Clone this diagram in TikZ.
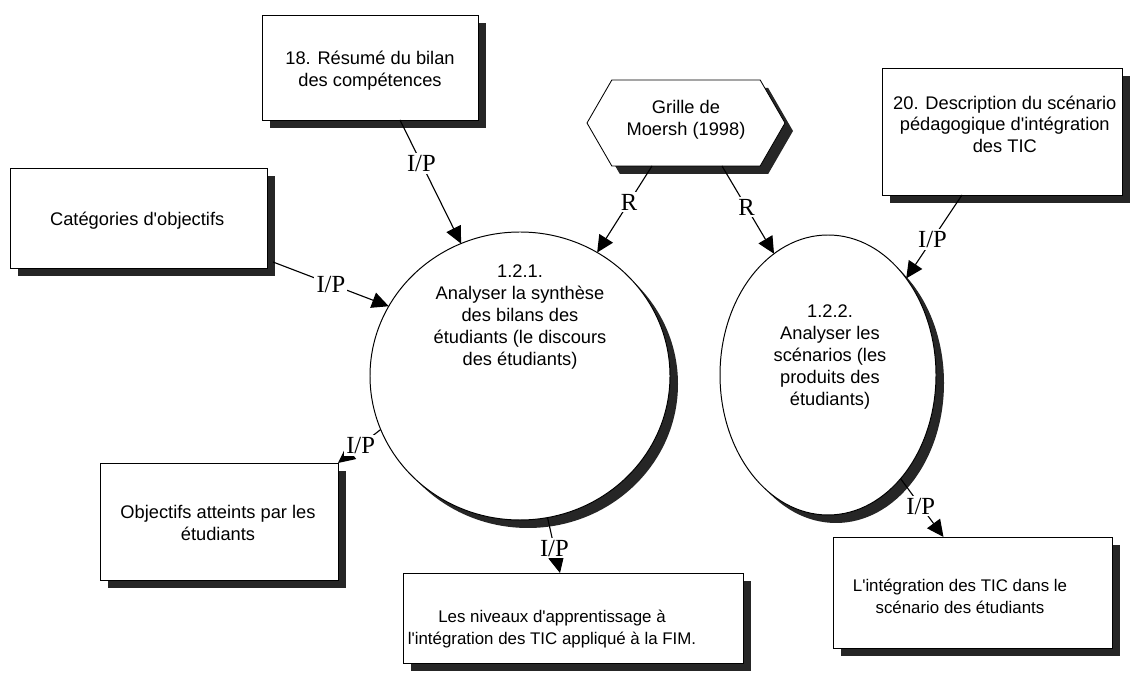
\documentclass[tikz,border=0pt]{standalone}
\usepackage{fontspec}
\setmainfont{Liberation Sans}
\newfontfamily\lblfont{Liberation Serif}
\usetikzlibrary{arrows.meta, shapes.geometric, shapes.symbols, shadows}
\newcommand{\ap}{\textquotesingle}

\tikzset{
  dropblk/.style={drop shadow={shadow xshift=0.2cm, shadow yshift=-0.2cm, fill=black!85, opacity=1}},
  box/.style={draw, fill=white, line width=0.6pt, rectangle, inner sep=0pt, outer sep=0pt, dropblk},
  proc/.style={draw, fill=white, ellipse, line width=0.7pt, inner sep=0pt, outer sep=0pt, dropblk},
  txt/.style={align=center, font=\fontsize{13}{15.5}\selectfont, inner sep=0pt},
  smalltxt/.style={txt, font=\fontsize{12}{15.5}\selectfont},
  flow/.style={line width=0.8pt, -{Triangle[length=0.42cm, width=0.4cm]}},
  tag/.style={fill=white, inner sep=1.5pt, font=\lblfont\fontsize{17.5}{17.5}\selectfont},
}

\begin{document}
\begin{tikzpicture}
\useasboundingbox (0,0) rectangle (28.25,16.825);

% Inputs
\node[box, minimum width=5.4cm, minimum height=2.625cm] (resume) at (9.25,15.1375) {};
\node[txt] (resumet) at (9.25,15.05) {18. Résumé du bilan\\des compétences};

\node[box, minimum width=6.425cm, minimum height=2.5cm] (categ) at (3.4625,11.375) {};
\node[txt] (categt) at (3.43,11.3) {Catégories d\ap objectifs};

\node[box, minimum width=6.0cm, minimum height=3.175cm] (descr) at (25.05,13.5375) {};
\node[txt] (descrt) at (25.12,13.72) {20. Description du scénario\\pédagogique d\ap intégration\\des TIC};

% Reference
\node[draw, fill=white, line width=0.6pt, signal, signal to=west and east, signal pointer angle=120,
  minimum width=4.95cm, minimum height=2.15cm, inner sep=0pt, outer sep=0pt, dropblk] (grille) at (17.15,13.75) {};
\node[txt] (grillet) at (17.15,13.825) {Grille de\\Moersh (1998)};

% Processes
\node[proc, minimum width=7.5cm, minimum height=7.2cm] (synth) at (13.0,7.425) {};
\node[txt] (syntht) at (13.0,8.9) {1.2.1.\\Analyser la synthèse\\des bilans des\\étudiants (le discours\\des étudiants)};

\node[proc, minimum width=5.4cm, minimum height=7.0cm] (scen) at (20.7,7.45) {};
\node[txt] (scent) at (20.75,7.9) {1.2.2.\\Analyser les\\scénarios (les\\produits des\\étudiants)};

% Outputs
\node[box, minimum width=5.95cm, minimum height=2.925cm] (objat) at (5.475,3.7875) {};
\node[txt] (objatt) at (5.45,3.75) {Objectifs atteints par les\\étudiants};

\node[box, minimum width=8.5cm, minimum height=2.25cm] (niveaux) at (14.325,1.375) {};
\node[smalltxt] (niveauxt) at (13.8,1.1) {Les niveaux d\ap apprentissage à\\l\ap intégration des TIC appliqué à la FIM.};

\node[box, minimum width=6.975cm, minimum height=2.775cm] (integ) at (24.3125,2.0125) {};
\node[smalltxt] (integt) at (24.0,1.925) {L\ap intégration des TIC dans le\\scénario des étudiants};

% Flows
\draw[flow] ([xshift=0.75cm]resume.south) -- node[tag, pos=0.35] (ip1) {I/P} (synth.114);
\draw[flow] ([shift={(0.15,0.15)}]categ.south east) -- node[tag, pos=0.5] (ip2) {I/P} (synth.152);
\draw[flow] ([xshift=-0.85cm]grille.south) -- node[tag, pos=0.42] (r1) {R} (synth.58.6);
\draw[flow] ([xshift=0.9cm]grille.south) -- node[tag, pos=0.47] (r2) {R} (scen.114);
\draw[flow] ([xshift=-1.0cm]descr.south) -- node[tag, pos=0.53] (ip3) {I/P} (scen.51.5);
\draw[flow] (synth.201.5) -- node[tag, pos=0.47] (ip4) {I/P} (objat.north east);
\draw[flow] (synth.281) -- node[tag, pos=0.55] (ip5) {I/P} ([xshift=-0.325cm]niveaux.north);
\draw[flow] (scen.305) -- node[tag, pos=0.47] (ip6) {I/P} ([xshift=-0.725cm]integ.north);
\end{tikzpicture}
\end{document}
